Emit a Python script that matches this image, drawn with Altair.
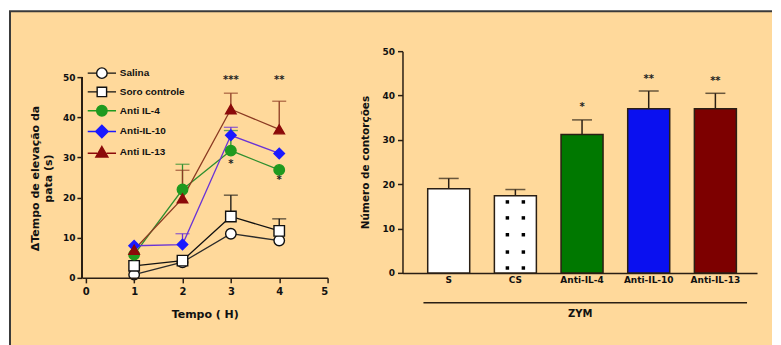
import altair as alt
import pandas as pd

# ---------------- data: left panel (time course) ----------------
TIMES = [1, 2, 3, 4]
SERIES = ["Salina", "Soro controle", "Anti IL-4", "Anti-IL-10", "Anti IL-13"]
SALINA = [0.8, 3.9, 11.0, 9.3]
SALINA_ERR = [0, 0, 0, 0]
SORO = [3.0, 4.3, 15.3, 11.7]
SORO_ERR = [0, 0, 5.3, 3.0]
IL4 = [5.8, 22.0, 31.7, 26.9]
IL4_ERR = [0, 6.3, 5.0, 0]
IL10 = [8.0, 8.3, 35.5, 31.0]
IL10_ERR = [0, 2.7, 2.0, 0]
IL13 = [7.0, 19.8, 42.0, 37.0]
IL13_ERR = [0, 7.0, 4.0, 7.0]
STAR_L_TEXT = ["***", "**", "*", "*"]
STAR_L_T = [3, 4, 3, 4]
STAR_L_V = [49.3, 49.3, 28.3, 24.3]

# ---------------- data: right panel (bars) ----------------
GROUPS = ["S", "CS", "Anti-IL-4", "Anti-IL-10", "Anti-IL-13"]
BAR_MEAN = [19.0, 17.4, 31.2, 37.0, 37.0]
BAR_ERR = [2.3, 1.4, 3.3, 4.0, 3.5]
BAR_STARS = ["", "", "*", "**", "**"]
PATTERN_ROWS = [1.1, 4.7, 8.6, 12.4, 16.0]

# ---------------- styles ----------------
BOX_FILL = "#FFD99B"
BORDER = "#3a3a3a"
AX = "#2a1f14"
LINE_COLORS = ["#2b2b2b", "#111111", "#2f8f2f", "#6a33d6", "#8b3a22"]
PT_SHAPES = ["circle", "square", "circle", "diamond", "triangle-up"]
PT_FILL = ["#ffffff", "#ffffff", "#1f9a1f", "#1a1aff", "#8b0a0a"]
PT_STROKE = ["#111111", "#111111", "#1f9a1f", "#1a1aff", "#8b0a0a"]
LEG_PATHS = [
    "M-2.7,0L-1,0M1,0L2.7,0M-1,0A1 1 0 1 1 1,0A1 1 0 1 1 -1,0Z",
    "M-2.7,0L-0.9,0M0.9,0L2.7,0M-0.9,-0.9L0.9,-0.9L0.9,0.9L-0.9,0.9Z",
    "M-2.7,0L-1,0M1,0L2.7,0M-1,0A1 1 0 1 1 1,0A1 1 0 1 1 -1,0Z",
    "M-2.7,0L-1.2,0M1.2,0L2.7,0M0,-1.2L1.2,0L0,1.2L-1.2,0Z",
    "M-2.7,0.2L-0.9,0.2M0.9,0.2L2.7,0.2M0,-1.1L1.15,0.9L-1.15,0.9Z",
]
BAR_COLORS = ["#ffffff", "#ffffff", "#007800", "#0a10f0", "#7d0000"]
XMIN = -0.08
YMAX_L = 50 * 227 / 201

rows = []
for name, vals, errs in zip(
    SERIES,
    [SALINA, SORO, IL4, IL10, IL13],
    [SALINA_ERR, SORO_ERR, IL4_ERR, IL10_ERR, IL13_ERR],
):
    for t, v, e in zip(TIMES, vals, errs):
        rows.append({"series": name, "t": t, "v": v, "e": e, "top": v + e})
df = pd.DataFrame(rows)

stars_l = pd.DataFrame({"s": STAR_L_TEXT, "t": STAR_L_T, "v": STAR_L_V})

xL = alt.X(
    "t:Q",
    scale=alt.Scale(domain=[XMIN, 5], nice=False, zero=False),
    axis=alt.Axis(
        values=[0, 1, 2, 3, 4, 5], title="Tempo ( H)", grid=False, zindex=1,
        tickSize=5, labelPadding=4, titlePadding=12,
        labelFont="DejaVu Sans", labelFontSize=10, labelFontWeight="bold",
        titleFont="DejaVu Sans", titleFontSize=11, titleFontWeight="bold",
    ),
)
yL = alt.Y(
    "v:Q",
    scale=alt.Scale(domain=[0, YMAX_L], nice=False),
    axis=alt.Axis(
        values=[0, 10, 20, 30, 40, 50], domain=False, grid=False, zindex=1,
        title=["\u0394Tempo de eleva\u00e7\u00e3o da", "pata (s)"],
        tickSize=5, labelPadding=2, titlePadding=9, titleY=127,
        labelFont="DejaVu Sans", labelFontSize=9, labelFontWeight="bold",
        titleFont="DejaVu Sans", titleFontSize=11, titleFontWeight="bold",
    ),
)
color_line = alt.Color("series:N", scale=alt.Scale(domain=SERIES, range=LINE_COLORS), legend=None)

base = alt.Chart(df)
one = pd.DataFrame({"k": [0]})

# frame: filled panel with a border on its top and left edges
box = alt.Chart(one).mark_rect(fill=BOX_FILL, strokeWidth=0).encode(
    x=alt.value(-73), x2=alt.value(691), y=alt.value(-40), y2=alt.value(300)
)
box_top = alt.Chart(one).mark_rule(color=BORDER, strokeWidth=2).encode(
    x=alt.value(-73), x2=alt.value(691), y=alt.value(-40)
)
box_left = alt.Chart(one).mark_rule(color=BORDER, strokeWidth=2).encode(
    x=alt.value(-72), y=alt.value(-40), y2=alt.value(300)
)

yline = base.mark_rule(color=AX, strokeWidth=1.5).encode(
    x=alt.datum(XMIN), y=alt.datum(0), y2=alt.datum(50)
)

lines = base.mark_line(strokeWidth=1.3).encode(x=xL, y=yL, color=color_line)
errs = base.transform_filter("datum.e > 0").mark_rule(strokeWidth=1.3).encode(
    x="t:Q", y="v:Q", y2="top:Q", color=color_line
)
caps = base.transform_filter("datum.e > 0").mark_tick(
    orient="horizontal", size=14, thickness=1.3
).encode(x="t:Q", y="top:Q", color=color_line)

points = base.mark_point(opacity=1, size=110, strokeWidth=1.4).encode(
    x="t:Q", y="v:Q",
    shape=alt.Shape("series:N", scale=alt.Scale(domain=SERIES, range=PT_SHAPES), legend=None),
    fill=alt.Fill("series:N", scale=alt.Scale(domain=SERIES, range=PT_FILL), legend=None),
    stroke=alt.Stroke("series:N", scale=alt.Scale(domain=SERIES, range=PT_STROKE), legend=None),
)

leg = alt.Legend(
    orient="none", legendX=14, legendY=16, title=None, symbolSize=110,
    symbolStrokeWidth=1.4, symbolOpacity=1, labelOffset=12, rowPadding=1.8,
    labelFont="Liberation Sans", labelFontSize=10, labelFontWeight="bold",
    labelColor="#111111", zindex=1,
)
legend_layer = base.mark_point(opacity=0, size=110).encode(
    x="t:Q", y="v:Q",
    shape=alt.Shape("series:N", scale=alt.Scale(domain=SERIES, range=LEG_PATHS), legend=leg),
    fill=alt.Fill("series:N", scale=alt.Scale(domain=SERIES, range=PT_FILL), legend=leg),
    stroke=alt.Stroke("series:N", scale=alt.Scale(domain=SERIES, range=PT_STROKE), legend=leg),
)

stars_left = alt.Chart(stars_l).mark_text(
    font="DejaVu Sans", fontSize=10, fontWeight="bold", color="#222222", baseline="middle"
).encode(x="t:Q", y="v:Q", text="s:N")

left = alt.layer(
    box, box_top, box_left, yline, lines, errs, caps, points, legend_layer, stars_left
).resolve_scale(shape="independent", fill="independent", stroke="independent").properties(
    width=246, height=227
)

# ---------------- right panel ----------------
dfb = pd.DataFrame({"g": GROUPS, "m": BAR_MEAN, "e": BAR_ERR, "s": BAR_STARS})
dfb["top"] = dfb["m"] + dfb["e"]
dfb["sy"] = dfb["top"] + 2.8

xR = alt.X(
    "g:N", sort=GROUPS,
    scale=alt.Scale(domain=GROUPS, paddingInner=0.37, paddingOuter=0.344, align=0.55),
    axis=alt.Axis(
        title="ZYM", labelAngle=0, ticks=False, labelPadding=3, titlePadding=24,
        labelFont="DejaVu Sans", labelFontSize=9, labelFontWeight="bold",
        titleFont="DejaVu Sans", titleFontSize=10, titleFontWeight="bold",
    ),
)
yR = alt.Y(
    "m:Q",
    scale=alt.Scale(domain=[0, 50], nice=False),
    axis=alt.Axis(
        values=[0, 10, 20, 30, 40, 50], grid=False, title="N\u00famero de contor\u00e7\u00f5es",
        tickSize=5, labelPadding=3, titlePadding=12,
        labelFont="DejaVu Sans", labelFontSize=9, labelFontWeight="bold",
        titleFont="DejaVu Sans", titleFontSize=10.5, titleFontWeight="bold",
    ),
)
bb = alt.Chart(dfb)
bars = bb.mark_bar(stroke=AX, strokeWidth=1.5).encode(
    x=xR, y=yR,
    fill=alt.Fill("g:N", scale=alt.Scale(domain=GROUPS, range=BAR_COLORS), legend=None),
)
berr = bb.mark_rule(color=AX, strokeWidth=1.5).encode(x="g:N", y="m:Q", y2="top:Q")
bcap = bb.mark_tick(color=AX, size=20, thickness=1.5).encode(x="g:N", y="top:Q")
bstars = bb.mark_text(
    font="DejaVu Sans", fontSize=10, fontWeight="bold", color="#222222", baseline="middle"
).encode(x="g:N", y="sy:Q", text="s:N")

dots_df = pd.DataFrame({"g": ["CS"] * len(PATTERN_ROWS), "y": PATTERN_ROWS})
dots_a = alt.Chart(dots_df).mark_square(size=12, color="#000000", opacity=1, xOffset=-8).encode(
    x="g:N", y="y:Q"
)
dots_b = alt.Chart(dots_df).mark_square(size=12, color="#000000", opacity=1, xOffset=8).encode(
    x="g:N", y="y:Q"
)
zym_line = alt.Chart(one).mark_rule(color=AX, strokeWidth=1.5).encode(
    x=alt.value(21), x2=alt.value(345), y=alt.value(252)
)

right = alt.layer(bars, dots_a, dots_b, berr, bcap, bstars, zym_line).properties(
    width=355, height=222
)

chart = alt.hconcat(left, right, spacing=75, bounds="flush").properties(
    padding={"left": 0, "top": 2, "right": 0, "bottom": 0}
).configure(background="#ffffff").configure_view(stroke=None).configure_axis(
    domainColor=AX, domainWidth=1.5, tickColor=AX, tickWidth=1.5,
    labelColor="#111111", titleColor="#111111",
)

chart.save("out.html", embed_options={"renderer": "svg", "actions": False})
